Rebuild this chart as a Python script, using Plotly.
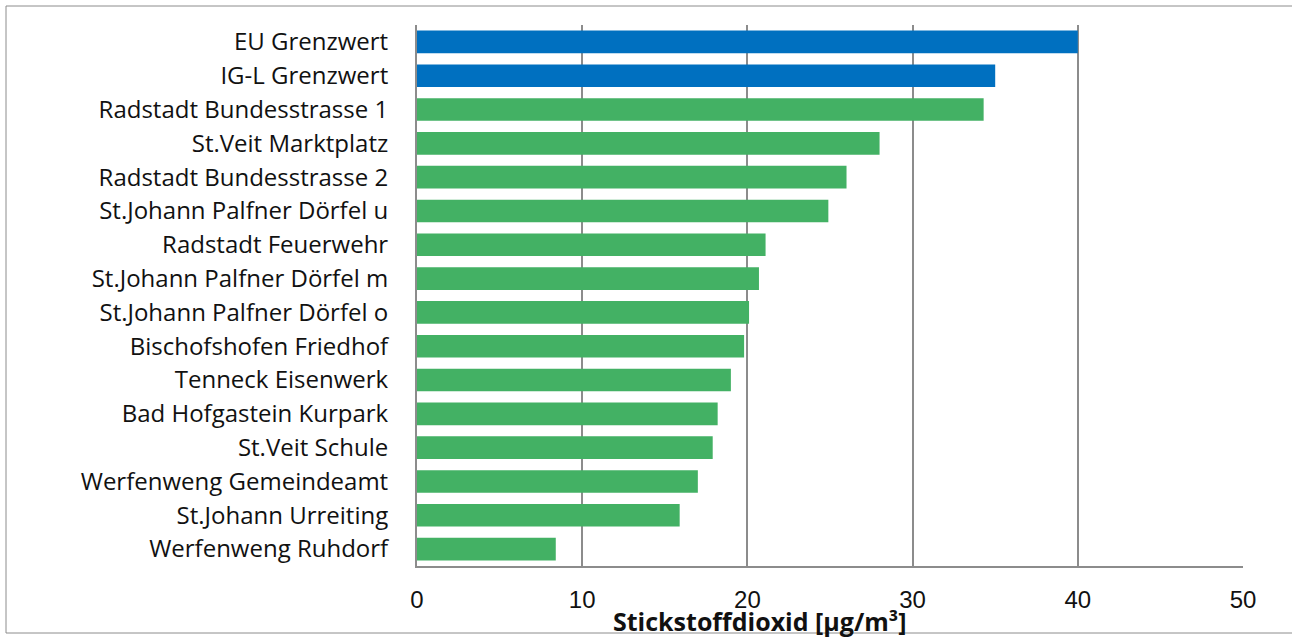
import plotly.graph_objects as go

# Stations (top to bottom) and annual mean NO2 values
stations = [
    "EU Grenzwert",
    "IG-L Grenzwert",
    "Radstadt Bundesstrasse 1",
    "St.Veit Marktplatz",
    "Radstadt Bundesstrasse 2",
    "St.Johann Palfner Dörfel u",
    "Radstadt Feuerwehr",
    "St.Johann Palfner Dörfel m",
    "St.Johann Palfner Dörfel o",
    "Bischofshofen Friedhof",
    "Tenneck Eisenwerk",
    "Bad Hofgastein Kurpark",
    "St.Veit Schule",
    "Werfenweng Gemeindeamt",
    "St.Johann Urreiting",
    "Werfenweng Ruhdorf",
]
values = [40, 35, 34.3, 28.0, 26.0, 24.9, 21.1, 20.7, 20.1, 19.8, 19.0, 18.2, 17.9, 17.0, 15.9, 8.4]
limit_names = {"EU Grenzwert", "IG-L Grenzwert"}
x_ticks = [0, 10, 20, 30, 40, 50]

BLUE = "#0070C0"
GREEN = "#43B164"
GRID = "#8c8c8c"
LABEL_FONT = "Open Sans"
TICK_FONT = "Liberation Sans"

colors = [BLUE if s in limit_names else GREEN for s in stations]

fig = go.Figure(
    go.Bar(
        x=values,
        y=stations,
        orientation="h",
        marker=dict(color=colors, line=dict(width=0)),
    )
)

fig.update_layout(
    width=1292,
    height=639,
    margin=dict(l=417, r=49, t=25, b=73),
    paper_bgcolor="white",
    plot_bgcolor="white",
    bargap=0.33,
    showlegend=False,
    font=dict(family=LABEL_FONT, size=24, color="#111111"),
    shapes=[
        dict(
            type="rect", xref="paper", yref="paper",
            x0=-411 / 826, x1=1244 / 826, y0=-67 / 541, y1=1 + 19 / 541,
            line=dict(color="#8c8c8c", width=1),
        )
    ],
    annotations=[
        dict(
            text="<b>Stickstoffdioxid [µg/m³]</b>",
            xref="paper", yref="paper",
            x=(760 - 417) / 826, y=-(621 - 566) / 541,
            xanchor="center", yanchor="middle",
            showarrow=False,
            font=dict(family=LABEL_FONT, size=25, color="#111111"),
        )
    ],
)

fig.update_xaxes(
    range=[0, 50],
    tickvals=x_ticks,
    showgrid=True,
    gridcolor=GRID,
    gridwidth=2,
    zeroline=False,
    showline=True,
    linecolor=GRID,
    linewidth=2,
    ticks="",
    ticklabelstandoff=11,
    tickfont=dict(family=TICK_FONT, size=24, color="#111111"),
)

fig.update_yaxes(
    categoryorder="array",
    categoryarray=stations[::-1],
    showgrid=False,
    showline=True,
    linecolor=GRID,
    linewidth=2,
    ticks="",
    ticklabelstandoff=22,
    tickfont=dict(family=LABEL_FONT, size=24, color="#111111"),
)

fig.write_html("out.html")
